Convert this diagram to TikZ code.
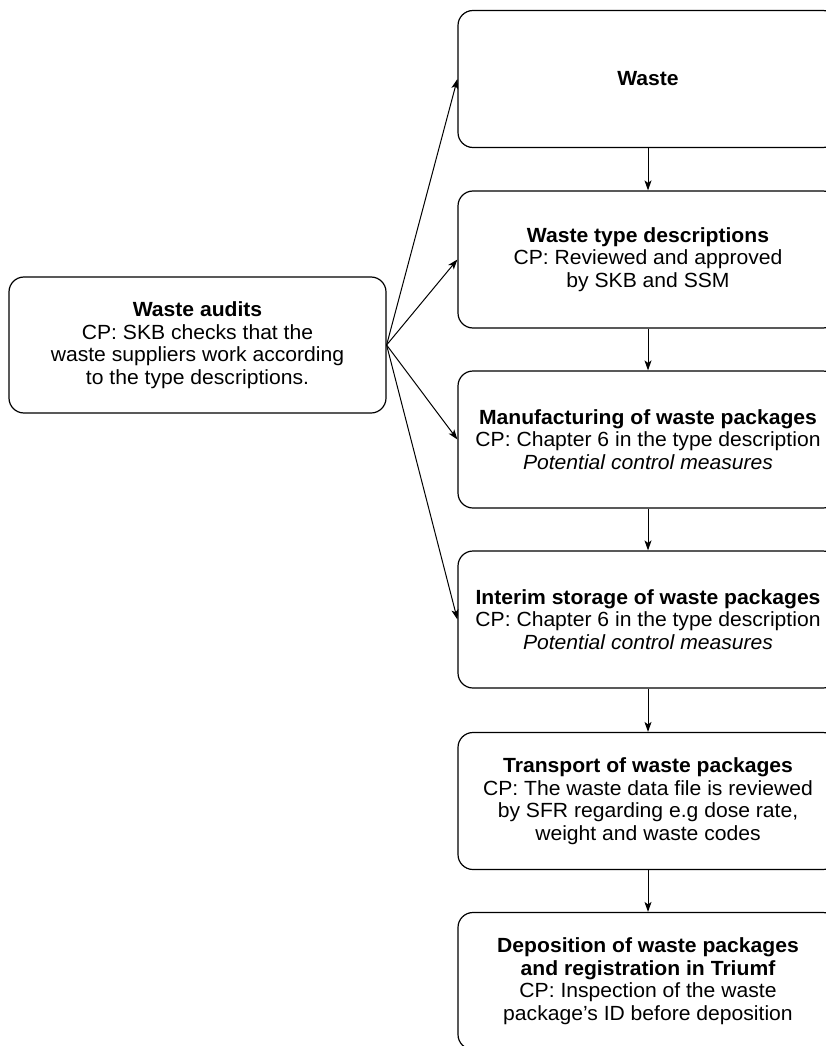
\documentclass[tikz,border=0pt]{standalone}
\usepackage{fontspec}
\setmainfont[FakeStretch=1.03]{Liberation Sans}
\usetikzlibrary{arrows.meta}
\begin{document}
\begin{tikzpicture}[x=1pt, y=-1pt]
	\tikzstyle{stage} = [rectangle, rounded corners=15pt, draw=black, line width=1.2pt, minimum width=380pt, minimum height=137pt, inner sep=0pt, align=center, font=\fontsize{20.5}{22.6}\selectfont]
	\tikzstyle{flow}  = [-{Stealth[length=10pt, width=7pt, inset=2.5pt]}, line width=1pt]

	\useasboundingbox (0, 0) rectangle (825, 1046);

	\node[stage, minimum width=377pt, minimum height=136pt] (audits) at (197.5, 345)
		{\textbf{Waste audits}\\CP: SKB checks that the\\waste suppliers work according\\to the type descriptions.};

	\node[stage] (waste) at (648, 79) {\textbf{Waste}};
	\node[stage] (types) at (648, 259.5)
		{\textbf{Waste type descriptions}\\CP: Reviewed and approved\\by SKB and SSM};
	\node[stage] (manuf) at (648, 439.5)
		{\textbf{Manufacturing of waste packages}\\CP: Chapter 6 in the type description\\\textit{Potential control measures}};
	\node[stage] (interim) at (648, 619.5)
		{\textbf{Interim storage of waste packages}\\CP: Chapter 6 in the type description\\\textit{Potential control measures}};
	\node[stage] (transport) at (648, 801)
		{\textbf{Transport of waste packages}\\CP: The waste data file is reviewed\\by SFR regarding e.g dose rate,\\weight and waste codes};
	\node[stage] (deposit) at (648, 981)
		{\textbf{Deposition of waste packages}\\\textbf{and registration in Triumf}\\CP: Inspection of the waste\\package’s ID before deposition};

	\foreach \from/\to in {waste/types, types/manuf, manuf/interim, interim/transport, transport/deposit}
		\path[flow] (\from) edge (\to);

	\foreach \to in {waste, types, manuf, interim}
		\path[flow] (audits.east) edge (\to.west);
\end{tikzpicture}
\end{document}
